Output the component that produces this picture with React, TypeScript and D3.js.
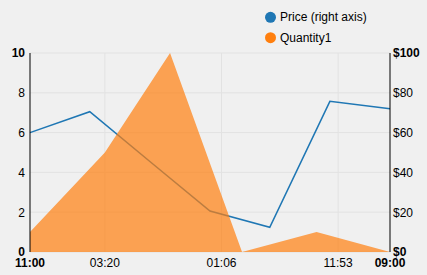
import React from "react";
import * as d3 from "d3";

// Price (right axis) series
const priceX = [0, 16.6, 33.3, 50, 66.6, 83.3, 100];
const priceY = [60, 70.5, 45.5, 20.6, 12.4, 75.7, 72];

// Quantity1 series (left axis)
const qtyX = [0, 20.8, 38.9, 58.9, 79.6, 100];
const qtyY = [1, 5, 10, 0, 1, 0];

// X axis ticks
const xTickPos = [0, 20.8, 53.2, 85.6, 100];
const xTickLabels = ["11:00", "03:20", "01:06", "11:53", "09:00"];

const leftTicks = [0, 2, 4, 6, 8, 10];
const rightTicks = [0, 20, 40, 60, 80, 100];

const seriesNames = ["Price (right axis)", "Quantity1"];
const seriesColors = ["#1f77b4", "#ff7f0e"];

const W = 427;
const H = 275;
const FONT = "'Liberation Sans', Arial, sans-serif";

export default function App() {
  const left = 30, right = 390, top = 53, bottom = 252;
  const x = d3.scaleLinear().domain([0, 100]).range([left, right]);
  const yL = d3.scaleLinear().domain([0, 10]).range([bottom, top]);
  const yR = d3.scaleLinear().domain([0, 100]).range([bottom, top]);

  const priceData = priceX.map((v, i) => [v, priceY[i]] as [number, number]);
  const qtyData = qtyX.map((v, i) => [v, qtyY[i]] as [number, number]);

  const line = d3.line<[number, number]>().x(d => x(d[0])).y(d => yR(d[1]));
  const area = d3
    .area<[number, number]>()
    .x(d => x(d[0]))
    .y0(yL(0))
    .y1(d => yL(d[1]));

  const innerTicks = xTickPos.slice(1, -1);

  return (
    <div style={{ position: "fixed", left: 0, top: 0, width: W, height: H, background: "#f0f0f0" }}>
      <svg width={W} height={H} style={{ display: "block", fontFamily: FONT }}>
        <rect x={0} y={0} width={W} height={H} fill="#f0f0f0" />
        {/* horizontal grid */}
        {leftTicks.map(t => (
          <line key={"h" + t} x1={left} x2={right} y1={yL(t)} y2={yL(t)} stroke="#e2e2e2" strokeWidth={1} />
        ))}
        {/* vertical grid */}
        {innerTicks.map(t => (
          <line key={"v" + t} x1={x(t)} x2={x(t)} y1={top} y2={bottom} stroke="#e2e2e2" strokeWidth={1} />
        ))}
        {/* price line (under area) */}
        <path d={line(priceData) || ""} fill="none" stroke={seriesColors[0]} strokeWidth={1.5} />
        {/* quantity area */}
        <path d={area(qtyData) || ""} fill={seriesColors[1]} fillOpacity={0.7} stroke="none" />
        {/* axes lines */}
        <line x1={left} x2={left} y1={top} y2={bottom} stroke="#000" strokeWidth={1} />
        <line x1={right} x2={right} y1={top} y2={bottom} stroke="#000" strokeWidth={1} />
        {/* left tick labels */}
        {leftTicks.map((t, i) => (
          <text
            key={"lt" + t}
            x={25}
            y={yL(t)}
            dy="0.36em"
            textAnchor="end"
            fontSize={12}
            fontWeight={i === 0 || i === leftTicks.length - 1 ? "bold" : "normal"}
            fill="#000"
          >
            {t}
          </text>
        ))}
        {/* right tick labels */}
        {rightTicks.map((t, i) => (
          <text
            key={"rt" + t}
            x={393}
            y={yR(t)}
            dy="0.36em"
            textAnchor="start"
            fontSize={12}
            fontWeight={i === 0 || i === rightTicks.length - 1 ? "bold" : "normal"}
            fill="#000"
          >
            {"$" + t}
          </text>
        ))}
        {/* x tick labels */}
        {xTickPos.map((t, i) => (
          <text
            key={"xt" + i}
            x={x(t)}
            y={267}
            textAnchor="middle"
            fontSize={12}
            fontWeight={i === 0 || i === xTickPos.length - 1 ? "bold" : "normal"}
            fill="#000"
          >
            {xTickLabels[i]}
          </text>
        ))}
        {/* legend */}
        {seriesNames.map((n, i) => (
          <g key={n} transform={`translate(270.5, ${17.3 + i * 20.4})`}>
            <circle r={5.5} fill={seriesColors[i]} />
            <text x={9.5} y={0} dy="0.32em" fontSize={12} fill="#000">
              {n}
            </text>
          </g>
        ))}
      </svg>
    </div>
  );
}
